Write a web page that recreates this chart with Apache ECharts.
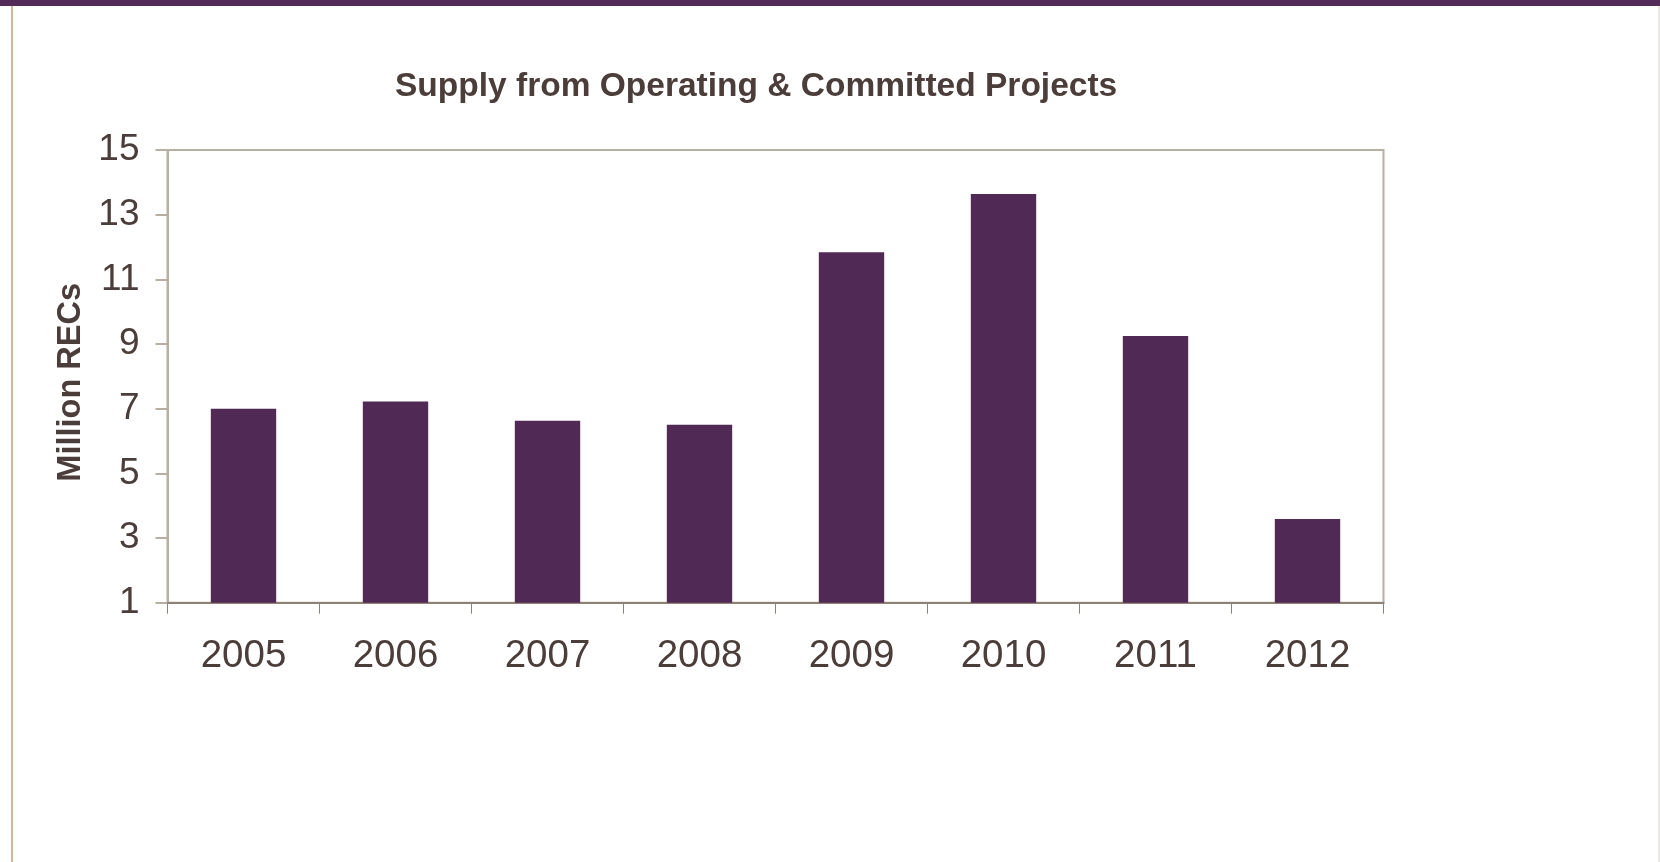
<!DOCTYPE html>
<html>
<head>
<meta charset="utf-8">
<style>
  html, body { margin: 0; padding: 0; background: #ffffff; }
  #chart { width: 1660px; height: 862px; }
</style>
<script src="https://cdn.jsdelivr.net/npm/echarts@6/dist/echarts.min.js"></script>
</head>
<body>
<div id="chart"></div>
<script>
// Supply of RECs from operating and committed projects, by year
const years = ['2005', '2006', '2007', '2008', '2009', '2010', '2011', '2012'];
const supplyMillionRECs = [7.0, 7.22, 6.63, 6.5, 11.84, 13.64, 9.25, 3.59];
const yTicks = { min: 1, max: 15, interval: 2 };

const textColor = '#4b3d39';
const barColor = '#512955';
const frameColor = '#b7afa2';
const baseColor = '#8e8276';
const font = 'Liberation Sans, Arial, sans-serif';

const chart = echarts.init(document.getElementById('chart'));
chart.setOption({
  backgroundColor: '#ffffff',
  animation: false,
  title: {
    text: 'Supply from Operating & Committed Projects',
    left: 390,
    top: 65,
    textStyle: {
      fontFamily: font,
      fontWeight: 'bold',
      fontSize: 33.5,
      color: textColor
    }
  },
  graphic: [
    // slide header band
    { type: 'rect', shape: { x: 0, y: 0, width: 1660, height: 6 }, style: { fill: '#522a57' }, silent: true },
    // left slide rule
    { type: 'rect', shape: { x: 11, y: 6, width: 2, height: 856 }, style: { fill: '#cbbb9c' }, silent: true },
    // right slide edge
    { type: 'rect', shape: { x: 1658, y: 6, width: 2, height: 856 }, style: { fill: '#ece8e2' }, silent: true }
  ],
  grid: {
    left: 167.5,
    top: 150,
    width: 1216,
    height: 452.7,
    show: true,
    borderColor: frameColor,
    borderWidth: 2,
    backgroundColor: 'transparent',
    containLabel: false
  },
  xAxis: {
    type: 'category',
    data: years,
    boundaryGap: true,
    axisLine: { show: true, lineStyle: { color: baseColor, width: 2 } },
    axisTick: { show: true, alignWithLabel: false, length: 11, lineStyle: { color: baseColor, width: 1 } },
    axisLabel: {
      margin: 34,
      fontFamily: font,
      fontSize: 38.5,
      color: textColor
    },
    splitLine: { show: false }
  },
  yAxis: {
    type: 'value',
    min: yTicks.min,
    max: yTicks.max,
    interval: yTicks.interval,
    name: 'Million RECs',
    nameLocation: 'middle',
    nameGap: 80,
    nameRotate: 90,
    nameTextStyle: {
      fontFamily: font,
      fontWeight: 'bold',
      fontSize: 32.5,
      color: textColor,
      padding: [0, 12, 0, 0]
    },
    axisLine: { show: true, lineStyle: { color: frameColor, width: 2 } },
    axisTick: { show: true, inside: false, length: 12, lineStyle: { color: frameColor, width: 2 } },
    axisLabel: {
      margin: 28,
      fontFamily: font,
      fontSize: 37,
      color: textColor,
      padding: [4, 0, 0, 0]
    },
    splitLine: { show: false }
  },
  series: [{
    type: 'bar',
    data: supplyMillionRECs,
    barWidth: '43%',
    itemStyle: { color: barColor },
    emphasis: { disabled: true }
  }]
});
</script>
</body>
</html>
